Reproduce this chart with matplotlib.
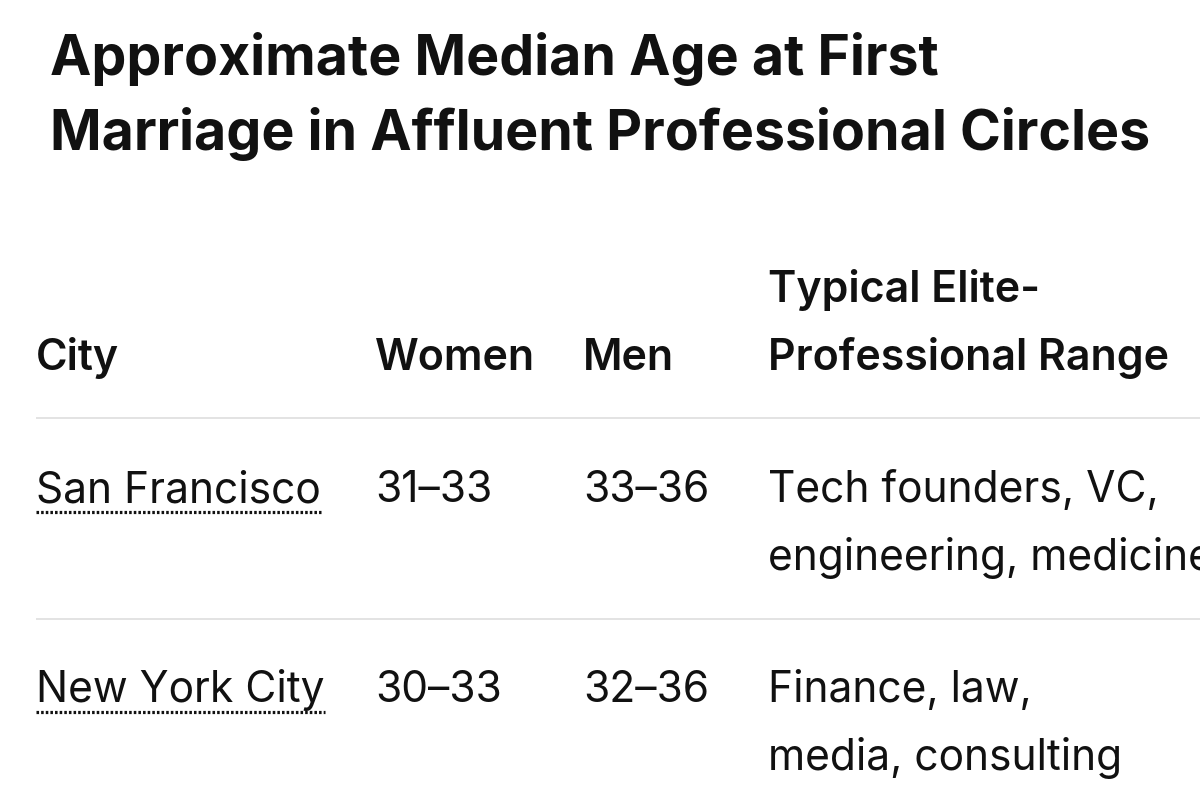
import matplotlib
matplotlib.use("Agg")
import matplotlib.pyplot as plt

title_lines = ["Approximate Median Age at First", "Marriage in Affluent Professional Circles"]
headers = ["City", "Women", "Men", "Typical Elite-\nProfessional Range"]
cities = ["San Francisco", "New York City"]
women = ["31–33", "30–33"]
men = ["33–36", "32–36"]
professions = ["Tech founders, VC,\nengineering, medicine", "Finance, law,\nmedia, consulting"]

W, H = 1200, 805
fig = plt.figure(figsize=(W / 100, H / 100), dpi=100)
ax = fig.add_axes([0, 0, 1, 1])
ax.set_xlim(0, W)
ax.set_ylim(H, 0)
ax.axis("off")

FONT = "Inter"
TXT = "#111111"
title_size = 39.9
body_size = 30.6
header_size = 30.9
line_gap = 68

# title
for i, t in enumerate(title_lines):
    ax.text(50, 75 + i * 75, t, fontsize=title_size, fontweight="bold",
            family=FONT, color=TXT, va="baseline", ha="left")

col_x = [36, 375, 583, 768]
header_base = 370
for x, h in zip(col_x, headers):
    lines = h.split("\n")
    n = len(lines)
    for j, ln in enumerate(lines):
        ax.text(x, header_base - (n - 1 - j) * line_gap, ln, fontsize=header_size,
                fontweight="semibold", family=FONT, color=TXT, va="baseline", ha="left")

# dividers
ax.plot([36, W], [418, 418], color="#e3e3e3", lw=1.4, solid_capstyle="butt")
row_base = [502, 702]
ax.plot([36, W], [619, 619], color="#e3e3e3", lw=1.4, solid_capstyle="butt")

city_texts = []
for r in range(len(cities)):
    y = row_base[r]
    t = ax.text(col_x[0], y, cities[r], fontsize=body_size, family=FONT,
                color=TXT, va="baseline", ha="left")
    city_texts.append(t)
    ax.text(col_x[1], y, women[r], fontsize=body_size, family=FONT,
            color=TXT, va="baseline", ha="left")
    ax.text(col_x[2], y, men[r], fontsize=body_size, family=FONT,
            color=TXT, va="baseline", ha="left")
    for j, ln in enumerate(professions[r].split("\n")):
        ax.text(col_x[3], y + j * line_gap, ln, fontsize=body_size, family=FONT,
                color=TXT, va="baseline", ha="left")

fig.canvas.draw()
inv = ax.transData.inverted()
for t, y in zip(city_texts, row_base):
    bb = t.get_window_extent()
    x0 = inv.transform((bb.x0, 0))[0]
    x1 = inv.transform((bb.x1, 0))[0]
    ax.plot([x0, x1], [y + 10, y + 10], color="#111111", lw=2.3,
            linestyle=(0, (0.8, 0.65)), solid_capstyle="butt", dash_capstyle="butt")

fig.savefig("out.png", dpi=100, facecolor="white")
